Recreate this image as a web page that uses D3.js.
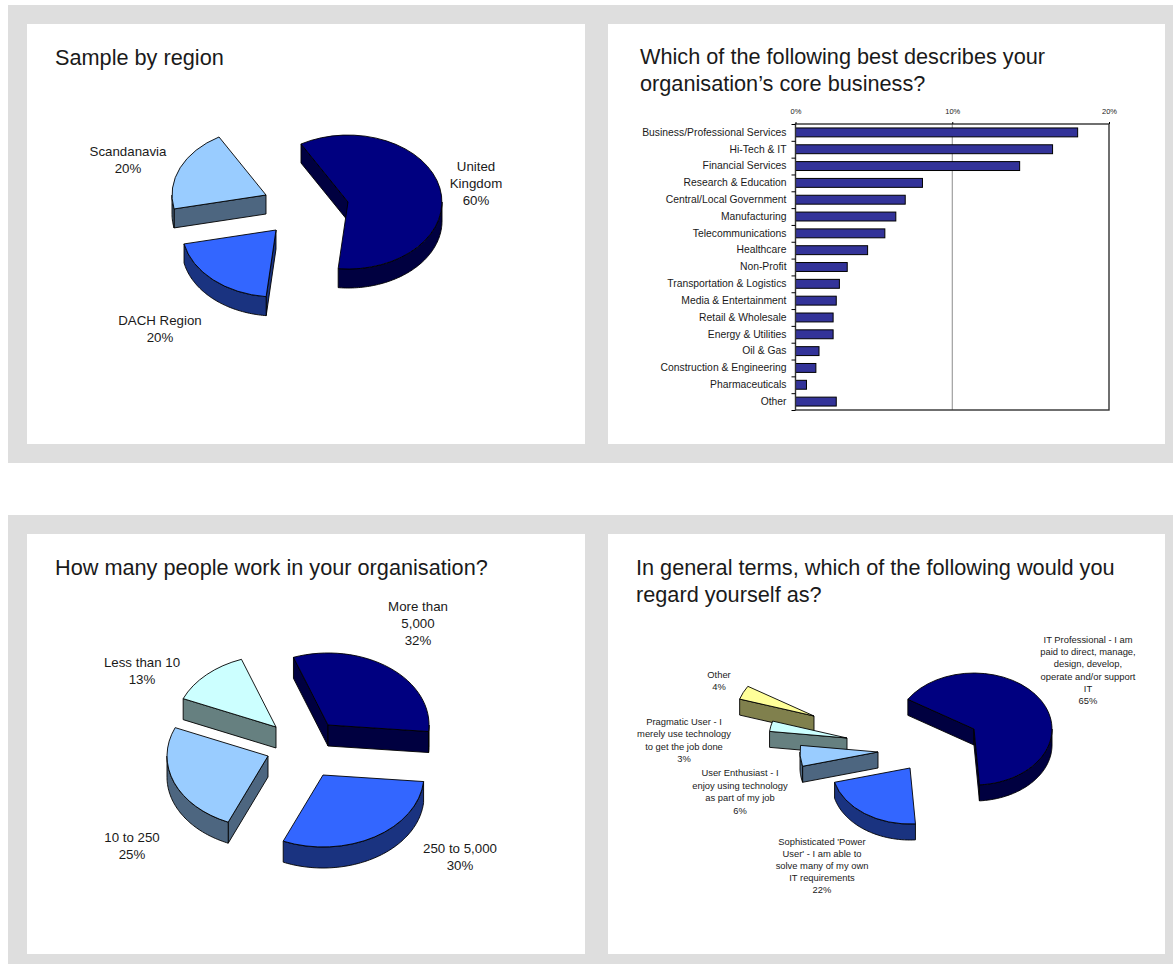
<!DOCTYPE html>
<html>
<head>
<meta charset="utf-8">
<title>Survey sample profile</title>
<script src="https://cdnjs.cloudflare.com/ajax/libs/d3/7.8.5/d3.min.js"></script>
<style>
  html, body { margin: 0; padding: 0; background: #fff; }
  svg { display: block; }
  text { font-family: "Liberation Sans", Arial, sans-serif; fill: #1a1a1a; }
  .title { font-size: 21.7px; }
</style>
</head>
<body>
<svg id="chart" width="1173" height="964"></svg>
<script>
// Survey answers, in percent
const regionNames = ["United Kingdom", "DACH Region", "Scandanavia"];
const regionValues = [60, 20, 20];

const businessNames = [
  "Business/Professional Services", "Hi-Tech & IT", "Financial Services",
  "Research & Education", "Central/Local Government", "Manufacturing",
  "Telecommunications", "Healthcare", "Non-Profit", "Transportation & Logistics",
  "Media & Entertainment", "Retail & Wholesale", "Energy & Utilities", "Oil & Gas",
  "Construction & Engineering", "Pharmaceuticals", "Other"
];
const businessValues = [18.0, 16.4, 14.3, 8.1, 7.0, 6.4, 5.7, 4.6, 3.3, 2.8, 2.6, 2.4, 2.4, 1.5, 1.3, 0.7, 2.6];
const businessTicks = [0, 10, 20];

const sizeNames = ["More than 5,000", "250 to 5,000", "10 to 250", "Less than 10"];
const sizeValues = [32, 30, 25, 13];

const roleNames = ["IT Professional", "Sophisticated 'Power User'", "User Enthusiast", "Pragmatic User", "Other"];
const roleValues = [65, 22, 6, 3, 4];

const blues = ["#000080", "#3366ff", "#99ccff", "#ccffff"];
const roleColours = ["#000080", "#3366ff", "#99ccff", "#ccffff", "#ffff99"];

// Layout of the page and of each exploded pie
const panelBands = [
  { x: 8, y: 5, w: 1165, h: 458 },
  { x: 8, y: 515, w: 1165, h: 449 }
];
const panels = [
  { x: 27, y: 24, w: 558, h: 420 },
  { x: 608, y: 24, w: 557, h: 420 },
  { x: 27, y: 534, w: 558, h: 420 },
  { x: 608, y: 534, w: 557, h: 420 }
];

const pies = [
  {
    values: regionValues, names: regionNames, colours: blues,
    startDeg: -30, rx: 94, ry: 67, depth: 19,
    apexes: [[348, 202], [276, 230], [266, 195]]
  },
  {
    values: sizeValues, names: sizeNames, colours: blues,
    startDeg: -20, rx: 101, ry: 72, depth: 21,
    apexes: [[328, 725], [323, 775], [268, 756], [276, 727]]
  },
  {
    values: roleValues, names: roleNames, colours: roleColours,
    startDeg: -58, rx: 78, ry: 56, depth: 16,
    apexes: [[974, 729], [910, 768], [878, 752], [847, 738], [814, 716]]
  }
];

// Wrapped text blocks: centre x, first baseline, line step
const titles = [
  { x: 55, y: 65, step: 27, lines: ["Sample by region"] },
  { x: 640, y: 64, step: 27, lines: ["Which of the following best describes your", "organisation\u2019s core business?"] },
  { x: 55, y: 575, step: 27, lines: ["How many people work in your organisation?"] },
  { x: 636, y: 575, step: 27, lines: ["In general terms, which of the following would you", "regard yourself as?"] }
];
const pieLabels = [
  { x: 476, y: 171, step: 17, size: 13.3, lines: ["United", "Kingdom", "60%"] },
  { x: 128, y: 156, step: 17, size: 13.3, lines: ["Scandanavia", "20%"] },
  { x: 160, y: 325, step: 16.5, size: 13.3, lines: ["DACH Region", "20%"] },
  { x: 418, y: 611, step: 17, size: 13.3, lines: ["More than", "5,000", "32%"] },
  { x: 142, y: 667, step: 16.5, size: 13.3, lines: ["Less than 10", "13%"] },
  { x: 132, y: 842, step: 17, size: 13.3, lines: ["10 to 250", "25%"] },
  { x: 460, y: 853, step: 17, size: 13.3, lines: ["250 to 5,000", "30%"] },
  { x: 1088, y: 643, step: 12.2, size: 9.4, lines: ["IT Professional - I am", "paid to direct, manage,", "design, develop,", "operate and/or support", "IT", "65%"] },
  { x: 719, y: 678, step: 12, size: 9.4, lines: ["Other", "4%"] },
  { x: 684, y: 725, step: 12.4, size: 9.4, lines: ["Pragmatic User - I", "merely use technology", "to get the job done", "3%"] },
  { x: 740, y: 776, step: 12.6, size: 9.4, lines: ["User Enthusiast - I", "enjoy using technology", "as part of my job", "6%"] },
  { x: 822, y: 845, step: 12, size: 9.4, lines: ["Sophisticated 'Power", "User' - I am able to", "solve many of my own", "IT requirements", "22%"] }
];

const svg = d3.select("#chart");

svg.append("g").selectAll("rect").data(panelBands).join("rect")
  .attr("x", d => d.x).attr("y", d => d.y).attr("width", d => d.w).attr("height", d => d.h)
  .attr("fill", "#dedede");
svg.append("g").selectAll("rect").data(panels).join("rect")
  .attr("x", d => d.x).attr("y", d => d.y).attr("width", d => d.w).attr("height", d => d.h)
  .attr("fill", "#fff");

function drawBlock(parent, block, anchor, cls) {
  const t = parent.append("text")
    .attr("text-anchor", anchor)
    .attr("class", cls || null)
    .style("font-size", block.size ? block.size + "px" : null);
  t.selectAll("tspan").data(block.lines).join("tspan")
    .attr("x", block.x)
    .attr("y", (_, i) => block.y + i * block.step)
    .text(d => d);
}

const lineGen = d3.line();

// Clipped range of the slice's rim that faces the viewer (lower half of the ellipse)
function frontRange(a0, a1) {
  const lo = Math.max(a0, Math.PI / 2);
  const hi = Math.min(a1, 3 * Math.PI / 2);
  return hi > lo ? [lo, hi] : null;
}

function drawPie(cfg) {
  const start = cfg.startDeg * Math.PI / 180;
  const arcs = d3.pie().sort(null).value(d => d)
    .startAngle(start).endAngle(start + 2 * Math.PI)(cfg.values);
  const unitArc = d3.arc().innerRadius(0).outerRadius(1);
  const g = svg.append("g");

  // Rear slices first so nearer walls sit on top of them
  arcs.map((a, i) => ({ a, i })).reverse().forEach(({ a, i }) => {
    const [cx, cy] = cfg.apexes[i];
    const face = d3.color(cfg.colours[i]);
    const side = d3.rgb(face.r / 2, face.g / 2, face.b / 2).formatHex();
    const rim = t => [cx + cfg.rx * Math.sin(t), cy - cfg.ry * Math.cos(t)];
    const drop = p => [p[0], p[1] + cfg.depth];
    const slice = g.append("g");

    const wall = pts => slice.append("path")
      .attr("d", lineGen(pts) + "Z")
      .attr("fill", side).attr("stroke", "#000").attr("stroke-width", 0.9)
      .attr("stroke-linejoin", "round");

    // Cut faces: only the ones whose slice lies above the cut can be seen
    if (Math.sin(a.startAngle) < 0) {
      const r = rim(a.startAngle);
      wall([[cx, cy], r, drop(r), [cx, cy + cfg.depth]]);
    }
    if (Math.sin(a.endAngle) > 0) {
      const r = rim(a.endAngle);
      wall([[cx, cy], r, drop(r), [cx, cy + cfg.depth]]);
    }

    // Outer wall
    const range = frontRange(a.startAngle, a.endAngle);
    if (range) {
      const angles = d3.range(range[0], range[1], 0.02).concat(range[1]);
      const top = angles.map(rim);
      wall(top.concat(top.map(drop).reverse()));
    }

    // Top face: a unit arc squashed into the pie's ellipse
    slice.append("path")
      .attr("d", unitArc({ startAngle: a.startAngle, endAngle: a.endAngle }))
      .attr("transform", `translate(${cx},${cy}) scale(${cfg.rx},${cfg.ry})`)
      .attr("vector-effect", "non-scaling-stroke")
      .attr("fill", cfg.colours[i]).attr("stroke", "#000").attr("stroke-width", 0.9)
      .attr("stroke-linejoin", "round");
  });
}

pies.forEach(drawPie);

// Horizontal bar chart of core business
const plot = { left: 795.5, right: 1109, top: 124, bottom: 410 };
const x = d3.scaleLinear().domain([0, 20]).range([plot.left, plot.right]);
const y = d3.scaleBand().domain(businessNames).range([plot.top, plot.bottom])
  .paddingInner(0.47).paddingOuter(0.235);
const yEdges = d3.scaleLinear().domain([0, businessNames.length]).range([plot.top, plot.bottom]);

const bars = svg.append("g");

bars.append("line")
  .attr("x1", x(10)).attr("x2", x(10)).attr("y1", plot.top).attr("y2", plot.bottom)
  .attr("stroke", "#8c8c8c").attr("stroke-width", 1);

bars.append("g").selectAll("rect").data(businessNames).join("rect")
  .attr("x", x(0))
  .attr("y", d => y(d))
  .attr("width", (_, i) => x(businessValues[i]) - x(0))
  .attr("height", y.bandwidth())
  .attr("fill", "#333399").attr("stroke", "#000").attr("stroke-width", 1);

bars.append("rect")
  .attr("x", plot.left).attr("y", plot.top)
  .attr("width", plot.right - plot.left).attr("height", plot.bottom - plot.top)
  .attr("fill", "none").attr("stroke", "#333").attr("stroke-width", 1.4);

const topAxis = bars.append("g")
  .attr("transform", `translate(0,${plot.top})`)
  .call(d3.axisTop(x).tickValues(businessTicks).tickFormat(d => d + "%").tickSize(2).tickPadding(8));
topAxis.select(".domain").remove();
topAxis.selectAll("text").style("font-size", "7.5px").attr("dy", "0");

const edgeAxis = bars.append("g")
  .attr("transform", `translate(${plot.left},0)`)
  .call(d3.axisLeft(yEdges).tickValues(d3.range(0, businessNames.length + 1)).tickFormat("").tickSize(4));
edgeAxis.select(".domain").remove();

const labelAxis = bars.append("g")
  .attr("transform", `translate(${plot.left},0)`)
  .call(d3.axisLeft(y).tickSize(0).tickPadding(9));
labelAxis.select(".domain").remove();
labelAxis.selectAll("text").style("font-size", "10.35px");

// Titles and data labels
const textLayer = svg.append("g");
titles.forEach(b => drawBlock(textLayer, b, "start", "title"));
pieLabels.forEach(b => drawBlock(textLayer, b, "middle"));
</script>
</body>
</html>
